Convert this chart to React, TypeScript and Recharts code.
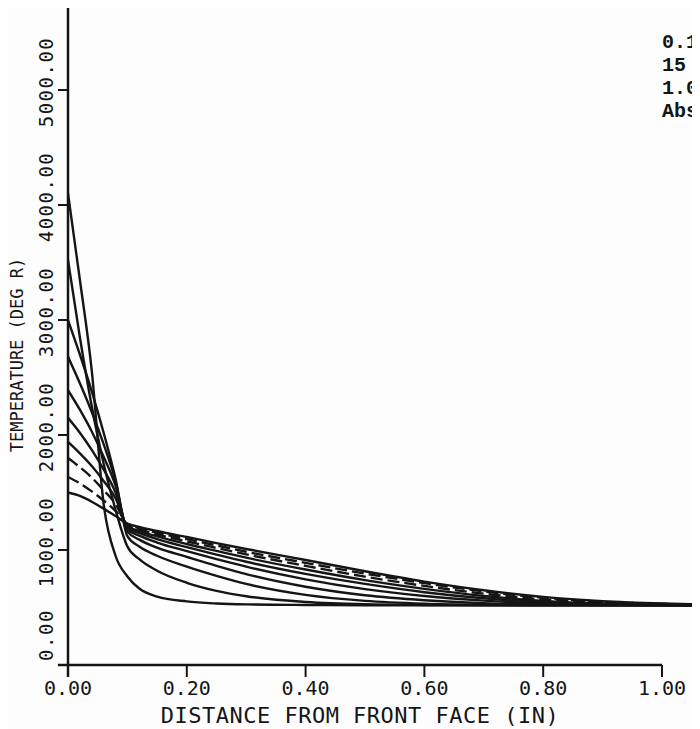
import React from 'react';
import { LineChart, Line, XAxis, YAxis, ReferenceLine } from 'recharts';

// Depth into the slab (inches) at which every profile is sampled
const distance = [0, 0.02, 0.04, 0.06, 0.08, 0.1, 0.12, 0.15, 0.2, 0.25, 0.3, 0.4, 0.5, 0.6, 0.7, 0.8, 0.9, 1.0, 1.064];

// Temperature profiles (deg R), one per time step
const profileA = [4100, 3350, 2560, 1400, 950, 770, 665, 595, 553, 535, 527, 522, 520, 520, 520, 520, 520, 520, 520];
const profileB = [3520, 2850, 2250, 1750, 1350, 1030, 920, 820, 715, 645, 598, 548, 528, 522, 520, 520, 520, 520, 520];
const profileC = [3000, 2700, 2380, 2020, 1620, 1120, 1030, 950, 855, 775, 705, 610, 558, 534, 524, 520, 520, 520, 520];
const profileD = [2680, 2450, 2200, 1920, 1600, 1160, 1090, 1020, 940, 862, 790, 680, 606, 563, 538, 526, 521, 520, 520];
const profileE = [2390, 2220, 2030, 1810, 1560, 1180, 1125, 1065, 990, 920, 855, 745, 660, 600, 560, 536, 525, 521, 520];
const profileF = [2150, 2020, 1870, 1700, 1500, 1195, 1148, 1095, 1025, 960, 898, 792, 705, 633, 580, 547, 530, 523, 521];
const profileG = [1940, 1840, 1730, 1600, 1450, 1205, 1165, 1118, 1052, 992, 933, 830, 738, 662, 600, 558, 535, 525, 522];
const profileH = [1800, 1720, 1630, 1520, 1400, 1215, 1178, 1135, 1075, 1018, 962, 862, 768, 688, 620, 570, 542, 528, 523];
const profileI = [1635, 1580, 1510, 1430, 1340, 1225, 1190, 1150, 1095, 1040, 985, 888, 795, 712, 640, 585, 550, 532, 525];
const profileJ = [1500, 1470, 1420, 1360, 1295, 1230, 1200, 1165, 1113, 1060, 1009, 913, 815, 725, 650, 592, 555, 535, 527];

const profiles = [profileA, profileB, profileC, profileD, profileE, profileF, profileG, profileH, profileI, profileJ];
const seriesKeys = ['a', 'b', 'c', 'd', 'e', 'f', 'g', 'h', 'i', 'j'];
const dashedKeys = ['h', 'i'];

const xTicks = [0, 0.2, 0.4, 0.6, 0.8, 1.0];
const yTicks = [0, 1000, 2000, 3000, 4000, 5000];
const noteLines = ['0.1', '15', '1.0', 'Abs'];

const xTitle = 'DISTANCE FROM FRONT FACE (IN)';
const yTitle = 'TEMPERATURE (DEG R)';

const rows = distance.map((x, i) => {
  const row: Record<string, number> = { x };
  seriesKeys.forEach((k, s) => {
    row[k] = profiles[s][i];
  });
  return row;
});

const INK = '#151515';
const MONO = '"DejaVu Sans Mono", "Liberation Mono", monospace';

const W = 692;
const H = 721;
const PLOT_LEFT = 60;
const PLOT_BOTTOM = 657;

const XTick = (props: any) => {
  const { x, payload } = props;
  return (
    <text
      x={x}
      y={PLOT_BOTTOM + 30}
      textAnchor="middle"
      fontFamily={MONO}
      fontSize={20}
      fill={INK}
    >
      {Number(payload.value).toFixed(2)}
    </text>
  );
};

const YTick = (props: any) => {
  const { y, payload } = props;
  const cy = payload.value === 0 ? y - 30 : y - 8;
  const bx = 45;
  return (
    <text
      x={bx}
      y={cy}
      transform={`rotate(-90, ${bx}, ${cy})`}
      textAnchor="middle"
      fontFamily={MONO}
      fontSize={19}
      letterSpacing={1.5}
      fill={INK}
    >
      {Number(payload.value).toFixed(2)}
    </text>
  );
};

export default function App() {
  return (
    <div style={{ position: 'relative', width: W, height: H, background: '#fdfdfd' }}>
      <LineChart
        width={W}
        height={H}
        data={rows}
        margin={{ top: 0, right: 0, bottom: 0, left: 0 }}
      >
        <XAxis
          type="number"
          dataKey="x"
          domain={[0, 1.064]}
          allowDataOverflow
          ticks={xTicks}
          interval={0}
          height={H - PLOT_BOTTOM}
          axisLine={false}
          tickLine={{ stroke: INK, strokeWidth: 2 }}
          tickSize={12}
          tick={<XTick />}
        />
        <YAxis
          type="number"
          domain={[0, 5713]}
          allowDataOverflow
          ticks={yTicks}
          interval={0}
          width={PLOT_LEFT}
          axisLine={false}
          tickLine={{ stroke: INK, strokeWidth: 2 }}
          tickSize={10}
          tick={<YTick />}
        />
        <ReferenceLine
          segment={[{ x: -0.017, y: 0 }, { x: 1.0, y: 0 }]}
          stroke={INK}
          strokeWidth={2.5}
          ifOverflow="visible"
        />
        <ReferenceLine
          segment={[{ x: 0, y: -105 }, { x: 0, y: 5713 }]}
          stroke={INK}
          strokeWidth={2.5}
          ifOverflow="visible"
        />
        {seriesKeys.map((k) => (
          <Line
            key={k}
            type="monotone"
            dataKey={k}
            stroke={INK}
            strokeWidth={2.4}
            strokeDasharray={dashedKeys.includes(k) ? '12 5' : undefined}
            dot={false}
            activeDot={false}
            isAnimationActive={false}
          />
        ))}
      </LineChart>
      <svg
        width={W}
        height={H}
        style={{ position: 'absolute', left: 0, top: 0, pointerEvents: 'none' }}
      >
        <text
          x={15}
          y={347}
          transform="rotate(-90, 15, 347)"
          textAnchor="middle"
          fontFamily={MONO}
          fontSize={17}
          fill={INK}
        >
          {yTitle}
        </text>
        <text
          x={352}
          y={715}
          textAnchor="middle"
          fontFamily={MONO}
          fontSize={22}
          letterSpacing={0.5}
          fill={INK}
        >
          {xTitle}
        </text>
        {noteLines.map((t, i) => (
          <text
            key={t}
            x={654}
            y={40 + i * 23}
            fontFamily='"Liberation Mono", "Courier New", monospace'
            fontWeight="bold"
            fontSize={20}
            fill={INK}
          >
            {t}
          </text>
        ))}
      </svg>
    </div>
  );
}
